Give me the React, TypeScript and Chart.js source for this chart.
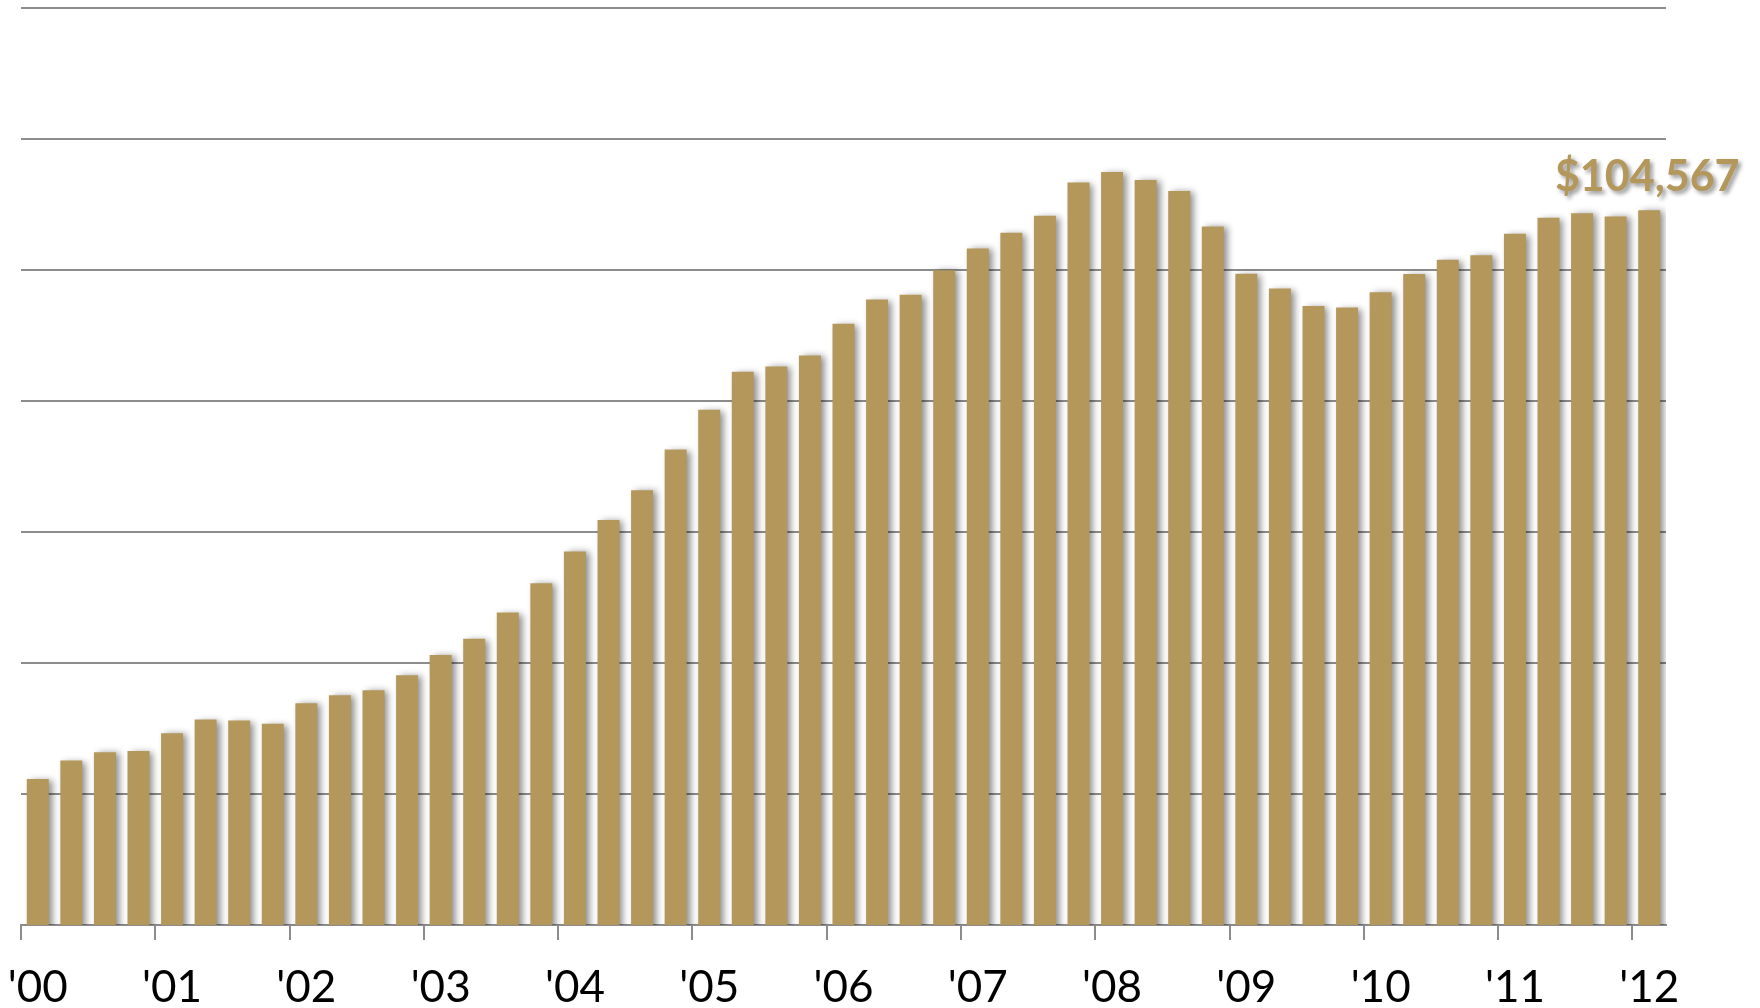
import React, { useEffect, useRef } from "react";
import { Chart, registerables } from "chart.js";

Chart.register(...registerables);

const years = ["'00", "'01", "'02", "'03", "'04", "'05", "'06", "'07", "'08", "'09", "'10", "'11", "'12"];
const quarters = ["Q1", "Q2", "Q3", "Q4"];

// quarterly values, Q1 2000 .. Q1 2012
const values2000_2003 = [
  61148, 62548, 63183, 63290,
  64637, 65685, 65608, 65356,
  66932, 67544, 67926, 69074,
  70604, 71859, 73848, 76090,
];
const values2004_2007 = [
  78515, 80910, 83182, 86289,
  89326, 92234, 92640, 93481,
  95906, 97742, 98102, 99984,
  101644, 102845, 104146, 106671,
];
const values2008_2012 = [
  107482, 106870, 106029, 103327,
  99708, 98584, 97260, 97130,
  98301, 99700, 100780, 101132,
  102770, 103993, 104323, 104093,
  104567,
];

const yMin = 50000;
const yMax = 120000;
const yStep = 10000;
const lastLabel = "$104,567";

const BAR = "#b3975b";
const GRID = "#8c8c8c";

export default function App() {
  const ref = useRef<HTMLCanvasElement | null>(null);

  useEffect(() => {
    if (!ref.current) return;
    const values = [...values2000_2003, ...values2004_2007, ...values2008_2012];
    const labels: string[] = values.map((_, i) => {
      const y = years[Math.floor(i / 4)];
      return quarters[i % 4] + " " + y;
    });

    const shadowPlugin = {
      id: "barShadow",
      beforeDatasetsDraw(chart: any) {
        const c = chart.ctx;
        c.save();
        c.shadowColor = "rgba(0,0,0,0.45)";
        c.shadowBlur = 7;
        c.shadowOffsetX = 4;
        c.shadowOffsetY = 1;
      },
      afterDatasetsDraw(chart: any) {
        chart.ctx.restore();
        const meta = chart.getDatasetMeta(0);
        const el = meta.data[meta.data.length - 1];
        if (!el) return;
        const c = chart.ctx;
        c.save();
        c.font = "bold 43px Lato";
        c.textAlign = "center";
        c.textBaseline = "alphabetic";
        c.shadowColor = "rgba(0,0,0,0.4)";
        c.shadowBlur = 4;
        c.shadowOffsetX = 3;
        c.shadowOffsetY = 3;
        c.fillStyle = BAR;
        c.fillText(lastLabel, el.x - 2, el.y - 19);
        c.restore();
      },
    };

    const chart = new Chart(ref.current, {
      type: "bar",
      data: {
        labels,
        datasets: [
          {
            data: values,
            backgroundColor: BAR,
            borderWidth: 0,
            categoryPercentage: 1,
            barPercentage: 0.655,
          },
        ],
      },
      options: {
        animation: false,
        responsive: false,
        devicePixelRatio: 1,
        layout: { padding: { left: 21, right: 94, top: 8, bottom: 0 } },
        plugins: {
          legend: { display: false },
          tooltip: { enabled: false },
        },
        scales: {
          x: {
            offset: true,
            afterFit: (scale: any) => {
              scale.height = 83;
              scale.paddingLeft = 0;
              scale.paddingRight = 0;
            },
            grid: {
              offset: true,
              drawOnChartArea: false,
              drawTicks: true,
              tickLength: 15,
              lineWidth: 2,
              color: (ctx: any) => (ctx.index % 4 === 0 ? GRID : "rgba(0,0,0,0)"),
            },
            border: { display: true, color: GRID, width: 2 },
            ticks: {
              autoSkip: false,
              maxRotation: 0,
              minRotation: 0,
              padding: 26,
              color: "#000",
              font: { family: "Lato", size: 44, lineHeight: 1.0 },
              callback: (_v: any, i: number) => (i % 4 === 0 ? years[i / 4] : ""),
            },
          },
          y: {
            min: yMin,
            max: yMax,
            ticks: { display: false, stepSize: yStep },
            grid: { color: GRID, lineWidth: 2, drawTicks: false },
            border: { display: false },
          },
        },
      },
      plugins: [shadowPlugin],
    });
    return () => chart.destroy();
  }, []);

  return (
    <div style={{ position: "fixed", left: 0, top: 0, width: 1760, height: 1008, background: "#fff" }}>
      <canvas ref={ref} width={1760} height={1008} style={{ width: 1760, height: 1008 }} />
    </div>
  );
}
